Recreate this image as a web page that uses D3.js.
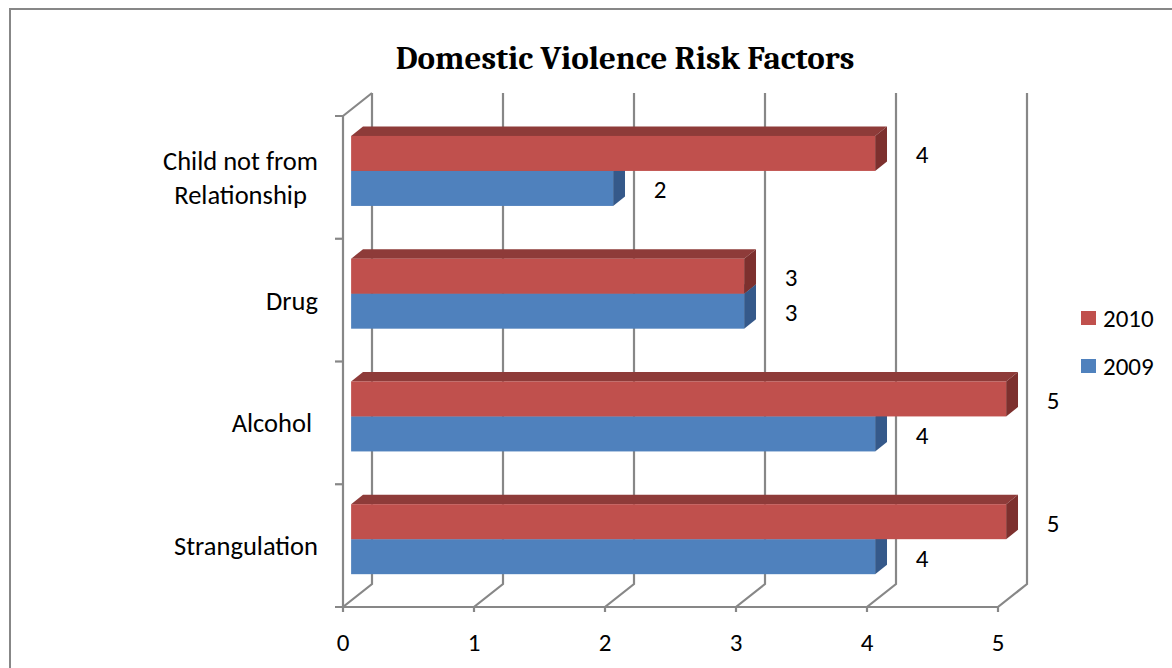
<!DOCTYPE html>
<html>
<head>
<meta charset="utf-8">
<script src="https://cdn.jsdelivr.net/npm/d3@7"></script>
<style>
  html, body { margin: 0; padding: 0; background: #fff; }
  svg { display: block; }
  text { fill: #000; }
</style>
</head>
<body>
<svg id="chart" width="1172" height="668"></svg>
<script>
// ---- data ----
const categories = ["Child not from\nRelationship", "Drug", "Alcohol ", "Strangulation"];
const seriesNames = ["2010", "2009"];
const values2010 = [4, 3, 5, 5];
const values2009 = [2, 3, 4, 4];
const tickValues = [0, 1, 2, 3, 4, 5];
const titleText = "Domestic Violence Risk Factors";

// ---- styling ----
const colors = {
  "2010": { front: "#C0504D", top: "#8E3B39", side: "#7D302E" },
  "2009": { front: "#4F81BD", top: "#3A6090", side: "#35598A" }
};
const gridColor = "#878787";
const labelFont = "Calibri, Carlito, Lato, sans-serif";

const svg = d3.select("#chart");

// outer chart border
svg.append("path")
  .attr("d", "M10,680 L10,9 L1180,9")
  .attr("fill", "none").attr("stroke", gridColor).attr("stroke-width", 2);

// title
svg.append("text")
  .attr("x", 625).attr("y", 69)
  .attr("text-anchor", "middle")
  .style("font-family", "Cambria, 'Liberation Serif', serif")
  .style("font-weight", "bold")
  .style("font-size", "33px")
  .text(titleText);

// ---- scales ----
const x = d3.scaleLinear().domain([0, 5]).range([343, 998]);
const y = d3.scaleBand().domain(categories).range([116, 607]);
const inner = d3.scaleBand().domain(seriesNames).range([-35, 35]);
const DX = 29, DY = -23;          // wall depth offset
const z0 = 0.28, z1 = 0.69;        // bar depth span (fraction of wall depth)

const g = svg.append("g")
  .attr("fill", "none").attr("stroke", gridColor).attr("stroke-width", 2.2);

// back wall gridlines and floor diagonals
tickValues.forEach(v => {
  const fx = x(v), fy = y.range()[1];
  g.append("path").attr("d",
    `M${fx},${fy + 5} L${fx},${fy} L${fx + DX},${fy + DY} L${fx + DX},${y.range()[0] + DY}`);
});
// floor front edge
g.append("line")
  .attr("x1", x(0) - 8).attr("x2", x(5))
  .attr("y1", y.range()[1]).attr("y2", y.range()[1]);
// left wall front edge + top diagonal
g.append("path").attr("d",
  `M${x(0) - 8},${y.range()[0]} L${x(0)},${y.range()[0]} L${x(0)},${y.range()[1]}
   M${x(0)},${y.range()[0]} L${x(0) + DX},${y.range()[0] + DY}`);
// category tick marks on the left wall
categories.forEach((c, i) => {
  if (i === 0) return;
  g.append("line")
    .attr("x1", x(0) - 8).attr("x2", x(0))
    .attr("y1", y(c)).attr("y2", y(c));
});

// ---- bars ----
const bars = svg.append("g");
const labels = svg.append("g")
  .style("font-family", labelFont).style("font-size", "25px");

function drawBar(cat, name, value) {
  const c = colors[name];
  const top = y(cat) + y.bandwidth() / 2 + inner(name) + DY * z0;
  const h = inner.bandwidth();
  const x0 = x(0) + DX * z0, x1 = x(value) + DX * z0;
  const ddx = DX * (z1 - z0), ddy = DY * (z1 - z0);
  const pts = a => a.map(p => p.join(",")).join(" ");
  bars.append("polygon").attr("fill", c.top)
    .attr("points", pts([[x0, top], [x0 + ddx, top + ddy], [x1 + ddx, top + ddy], [x1, top]]));
  bars.append("polygon").attr("fill", c.side)
    .attr("points", pts([[x1, top], [x1 + ddx, top + ddy], [x1 + ddx, top + h + ddy], [x1, top + h]]));
  bars.append("rect").attr("fill", c.front)
    .attr("x", x0).attr("y", top).attr("width", x1 - x0).attr("height", h);
  labels.append("text")
    .attr("x", x1 + 47).attr("y", top + h / 2 + 10)
    .attr("text-anchor", "middle")
    .text(value);
}

categories.forEach((cat, i) => {
  drawBar(cat, "2009", values2009[i]);
  drawBar(cat, "2010", values2010[i]);
});

// ---- category labels ----
const catG = svg.append("g")
  .style("font-family", labelFont).style("font-size", "26.5px");
const lineH = 34;
categories.forEach(cat => {
  const lines = cat.split("\n");
  const cy = y(cat) + y.bandwidth() / 2;
  const t = catG.append("text").style("white-space", "pre");
  const spans = lines.map((ln, k) =>
    t.append("tspan")
      .attr("y", cy + 9.5 + (k - (lines.length - 1) / 2) * lineH)
      .text(ln));
  const widths = spans.map(s => s.node().getComputedTextLength());
  const maxW = d3.max(widths);
  spans.forEach((s, k) => s.attr("x", 318 - (maxW + widths[k]) / 2));
});

// ---- value axis labels ----
const axG = svg.append("g")
  .style("font-family", labelFont).style("font-size", "25px");
tickValues.forEach(v => {
  axG.append("text").attr("x", x(v)).attr("y", 651)
    .attr("text-anchor", "middle").text(v);
});

// ---- legend ----
const leg = svg.append("g")
  .style("font-family", labelFont).style("font-size", "25px");
seriesNames.forEach((name, i) => {
  const ly = 311 + i * 48;
  leg.append("rect").attr("x", 1081).attr("y", ly)
    .attr("width", 15).attr("height", 14).attr("fill", colors[name].front);
  leg.append("text").attr("x", 1103).attr("y", ly + 15.5).text(name);
});
</script>
</body>
</html>
